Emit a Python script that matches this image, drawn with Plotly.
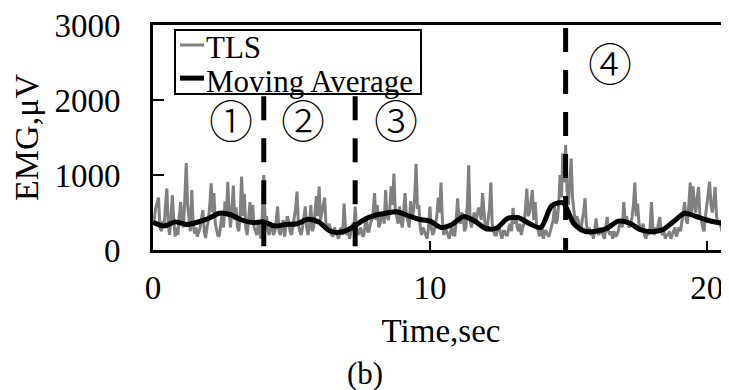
import numpy as np
import plotly.graph_objects as go

# ---------------- data ----------------
tls_step = 0.05
tls_values = [
    350, 420, 560, 650, 700, 300, 250, 380, 300, 600, 820, 350, 200, 450, 730, 400, 180, 300, 200, 450,
    640, 380, 300, 700, 1160, 600, 450, 250, 800, 350, 220, 300, 180, 250, 300, 420, 530, 250, 160, 300,
    400, 600, 890, 500, 760, 350, 250, 180, 200, 350, 500, 300, 650, 450, 910, 500, 300, 550, 860, 400,
    570, 300, 250, 500, 980, 450, 750, 300, 200, 400, 640, 350, 600, 300, 250, 200, 350, 250, 150, 500,
    1000, 350, 450, 250, 200, 300, 350, 200, 250, 400, 580, 250, 200, 300, 400, 180, 300, 450, 380, 250,
    200, 300, 400, 550, 780, 350, 250, 200, 300, 450, 580, 300, 200, 350, 600, 250, 300, 500, 720, 450,
    845, 400, 500, 650, 700, 300, 250, 350, 300, 200, 180, 300, 250, 200, 150, 250, 300, 200, 620, 300,
    200, 250, 150, 250, 350, 250, 580, 300, 200, 250, 300, 200, 180, 300, 450, 250, 250, 350, 400, 500,
    760, 400, 600, 300, 350, 450, 500, 350, 800, 450, 400, 550, 850, 600, 1020, 500, 450, 350, 580, 400,
    300, 500, 760, 450, 400, 300, 650, 450, 500, 700, 1150, 550, 600, 300, 200, 300, 250, 200, 150, 300,
    580, 300, 200, 250, 350, 450, 700, 500, 900, 400, 200, 300, 250, 200, 150, 250, 300, 200, 200, 400,
    690, 400, 350, 500, 450, 250, 300, 600, 1130, 400, 300, 400, 500, 350, 450, 550, 550, 400, 760, 450,
    300, 250, 400, 550, 900, 350, 250, 200, 200, 300, 300, 200, 150, 250, 250, 200, 200, 300, 350, 250,
    560, 350, 450, 300, 250, 350, 200, 300, 350, 550, 820, 450, 500, 650, 800, 400, 640, 350, 250, 200,
    200, 300, 150, 250, 250, 200, 180, 250, 300, 400, 580, 350, 400, 600, 1000, 700, 1290, 900, 1400, 800,
    600, 900, 1220, 700, 500, 350, 450, 400, 300, 250, 400, 500, 690, 350, 250, 300, 200, 250, 150, 250,
    420, 250, 200, 300, 250, 200, 150, 300, 440, 250, 200, 250, 150, 250, 180, 200, 250, 350, 400, 300,
    640, 400, 450, 350, 300, 350, 440, 600, 900, 450, 620, 350, 250, 300, 350, 200, 150, 250, 200, 300,
    640, 300, 200, 300, 250, 350, 440, 250, 200, 250, 150, 200, 200, 250, 150, 200, 250, 300, 180, 250,
    300, 250, 400, 500, 640, 400, 350, 600, 900, 500, 850, 600, 500, 700, 840, 450, 400, 300, 250, 450,
    600, 750, 910, 600, 500, 650, 840, 450, 350, 400, 300, 250, 200, 400, 620, 400, 300,
]
tls_time = np.round(np.arange(len(tls_values)) * tls_step, 3)

ma_step = 0.4
ma_values = [
    370, 320, 375, 340, 370, 420, 490, 470, 400, 365,
    375, 320, 340, 350, 410, 370, 250, 240, 300, 400,
    460, 490, 510, 460, 410, 385, 300, 340, 445, 390,
    290, 290, 420, 430, 350, 300, 590, 630, 350, 250,
    250, 290, 385, 360, 270, 245, 270, 380, 490, 450,
    400, 365, 345,
]
ma_time = np.round(np.arange(len(ma_values)) * ma_step, 2)

series_names = ["TLS", "Moving Average"]
series_colors = ["#808080", "black"]
series_widths = [3, 5]

boundaries = [4.0, 7.3, 14.9]          # phase boundaries (sec)
boundary_top = [2050, 2050, 2960]      # where each dashed line starts

region_labels = ["①", "②", "③", "④"]
region_x = [2.82, 5.42, 8.77, 16.5]
region_y = [1747, 1747, 1747, 2507]

x_ticks = [0, 10, 20]
y_ticks = [0, 1000, 2000, 3000]

SERIF = "Liberation Serif, Times New Roman, serif"

# ---------------- figure ----------------
fig = go.Figure()
fig.add_trace(go.Scatter(
    x=tls_time, y=tls_values, mode="lines", name=series_names[0],
    line=dict(color=series_colors[0], width=series_widths[0]),
))
fig.add_trace(go.Scatter(
    x=ma_time, y=ma_values, mode="lines", name=series_names[1],
    line=dict(color=series_colors[1], width=series_widths[1],
              shape="spline", smoothing=0.8),
))

for bx, top in zip(boundaries, boundary_top):
    fig.add_shape(type="line", xref="x", yref="y",
                  x0=bx, x1=bx, y0=top, y1=0,
                  line=dict(color="black", width=5, dash="24px,18px"),
                  layer="above")

for lab, lx, ly in zip(region_labels, region_x, region_y):
    fig.add_annotation(x=lx, y=ly, xref="x", yref="y", text=lab,
                       showarrow=False,
                       font=dict(family="Noto Sans CJK JP", size=44,
                                 weight=300, color="black"))

# --- compact legend box (drawn in paper coordinates) ---
fig.add_shape(type="rect", xref="paper", yref="paper",
              x0=0.0382, x1=0.4653, y0=0.6933, y1=0.9778,
              line=dict(color="black", width=2), fillcolor="white",
              layer="above")
leg_y = [0.911, 0.764]
leg_text_y = [0.898, 0.751]
for name, col, w, ly, ty in zip(series_names, series_colors, series_widths,
                                leg_y, leg_text_y):
    fig.add_shape(type="line", xref="paper", yref="paper",
                  x0=0.0469, x1=0.0885, y0=ly, y1=ly,
                  line=dict(color=col, width=w), layer="above")
    fig.add_annotation(x=0.0885, y=ty, xref="paper", yref="paper", text=name,
                       showarrow=False, xanchor="left", yanchor="middle",
                       font=dict(family=SERIF, size=31, color="black"))

fig.add_annotation(x=0.368, y=-0.636, xref="paper", yref="paper", text="(b)",
                   showarrow=False, font=dict(family=SERIF, size=31, color="black"))

# page body has an 8px margin, so the figure is sized/offset to compensate
fig.update_layout(
    width=721, height=382,
    margin=dict(l=145, r=0, t=17, b=140, autoexpand=False),
    paper_bgcolor="white", plot_bgcolor="white",
    font=dict(family=SERIF, size=33, color="black"),
    showlegend=False,
    xaxis=dict(range=[0, 20.8], tickvals=x_ticks, ticks="inside", ticklen=9,
               tickwidth=2, tickcolor="black", showline=True, linewidth=3,
               linecolor="black", mirror=True, showgrid=False, zeroline=False,
               automargin=False, ticklabeloverflow="allow",
               tickfont=dict(family=SERIF, size=33), ticklabelstandoff=6,
               title=dict(text="Time,sec", font=dict(family=SERIF, size=33))),
    yaxis=dict(range=[0, 3000], tickvals=y_ticks, ticks="inside", ticklen=11,
               tickwidth=2, tickcolor="black", showline=True, linewidth=3,
               linecolor="black", showgrid=False, zeroline=False,
               automargin=False, ticklabeloverflow="allow",
               tickfont=dict(family=SERIF, size=33), ticklabelstandoff=23,
               title=dict(text="EMG,μV", font=dict(family=SERIF, size=34),
                          standoff=6)),
)

fig.write_html("out.html")
